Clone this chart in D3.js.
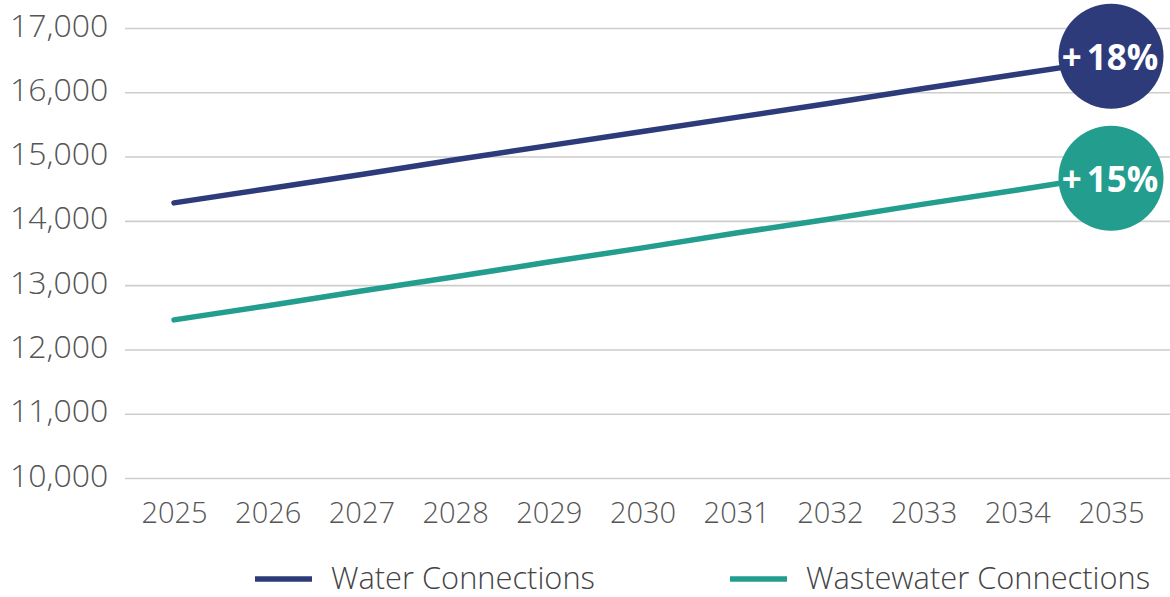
<!DOCTYPE html>
<html>
<head>
<meta charset="utf-8">
<script src="https://cdn.jsdelivr.net/npm/d3@7"></script>
<style>
  html, body { margin: 0; padding: 0; background: #ffffff; }
  svg { display: block; }
</style>
</head>
<body>
<svg id="chart" width="1170" height="597"></svg>
<script>
const years = [2025, 2026, 2027, 2028, 2029, 2030, 2031, 2032, 2033, 2034, 2035];
const waterValues = [14280, 14500, 14720, 14950, 15170, 15390, 15610, 15830, 16060, 16280, 16500];
const wastewaterValues = [12460, 12680, 12910, 13130, 13360, 13580, 13810, 14030, 14260, 14480, 14710];
const yTicks = [10000, 11000, 12000, 13000, 14000, 15000, 16000, 17000];
const seriesNames = ["Water Connections", "Wastewater Connections"];
const growthSigns = ["+", "+"];
const growthLabels = ["18%", "15%"];
const colors = ["#2d3b7b", "#239e8e"];

const svg = d3.select("#chart");
const font = "'Open Sans', 'DejaVu Sans', sans-serif";
const textColor = "#555555";

const x = d3.scalePoint().domain(years).range([174, 1111]);
const y = d3.scaleLinear().domain([10000, 17000]).range([478, 28]);

// gridlines + y labels
const yAxis = d3.axisLeft(y).tickValues(yTicks).tickSize(0).tickFormat(d3.format(","));
const gy = svg.append("g").call(yAxis);
gy.select(".domain").remove();
gy.selectAll(".tick line").remove();
gy.selectAll(".tick text")
  .attr("x", 10).attr("dy", null).attr("y", 8)
  .attr("text-anchor", "start")
  .attr("fill", textColor)
  .style("font-family", font).style("font-size", "32px").style("font-weight", 300);
gy.selectAll(".tick").append("line")
  .attr("x1", 125).attr("x2", 1170)
  .attr("stroke", "#cdcdcd").attr("stroke-width", 1.6);

// x labels
const xAxis = d3.axisBottom(x).tickSize(0).tickFormat(d => String(d));
const gx = svg.append("g").attr("transform", "translate(0,478)").call(xAxis);
gx.select(".domain").remove();
gx.selectAll(".tick text")
  .attr("y", 45).attr("dy", null)
  .attr("fill", textColor)
  .style("font-family", font).style("font-size", "29px").style("font-weight", 300);

// lines
const series = [waterValues, wastewaterValues];
const line = d3.line().x((d, i) => x(years[i])).y(d => y(d));
series.forEach((vals, si) => {
  svg.append("path")
    .datum(vals)
    .attr("d", line)
    .attr("fill", "none")
    .attr("stroke", colors[si])
    .attr("stroke-width", 5.5)
    .attr("stroke-linecap", "round");
});

// end circles
const circleOffsets = [-4, 3];
series.forEach((vals, si) => {
  const cx = x(years[years.length - 1]);
  const cy = y(vals[vals.length - 1]) + circleOffsets[si];
  svg.append("circle").attr("cx", cx).attr("cy", cy).attr("r", 52.5).attr("fill", colors[si]);
  const t = svg.append("text")
    .attr("x", cx - 1).attr("y", cy + 14)
    .attr("text-anchor", "middle")
    .attr("fill", "#ffffff")
    .style("font-family", font).style("font-size", "35px").style("font-weight", 700);
  t.append("tspan").text(growthSigns[si]);
  t.append("tspan").attr("dx", 5).text(growthLabels[si]);
});

// legend
const legendX = [255, 730];
seriesNames.forEach((name, i) => {
  const g = svg.append("g").attr("transform", `translate(${legendX[i]},579)`);
  g.append("line").attr("x1", 0).attr("x2", 57).attr("y1", 0).attr("y2", 0)
    .attr("stroke", colors[i]).attr("stroke-width", 5.5);
  g.append("text").attr("x", 76).attr("y", 10)
    .attr("fill", "#444444")
    .style("font-family", font).style("font-size", "30.8px").style("font-weight", 300)
    .text(name);
});
</script>
</body>
</html>
